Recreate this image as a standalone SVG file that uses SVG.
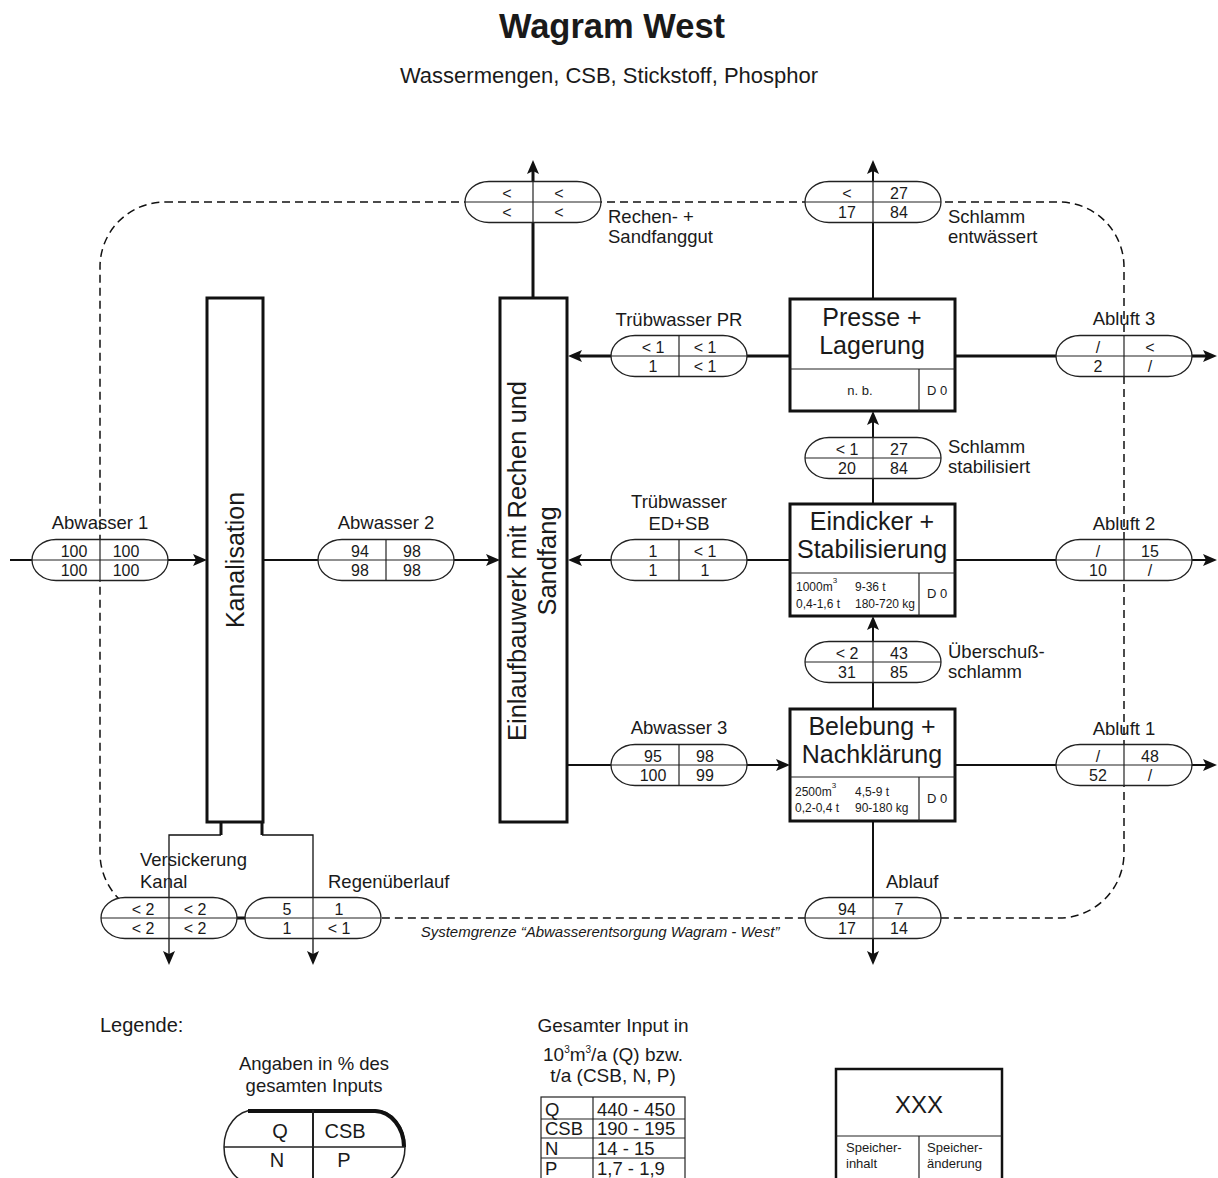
<svg xmlns="http://www.w3.org/2000/svg" width="1218" height="1178" viewBox="0 0 1218 1178">
<style>
text{font-family:"Liberation Sans",Arial,sans-serif;fill:#1a1a1a}
.t{font-size:34.5px;font-weight:bold;text-anchor:middle}
.st{font-size:22px;text-anchor:middle}
.lb{font-size:18.5px}
.lbm{font-size:18.5px;text-anchor:middle}
.bx{font-size:25px;text-anchor:middle}
.v{font-size:16px;text-anchor:middle}
.sm{font-size:12px}
.smm{font-size:13px;text-anchor:middle}
.box{fill:#fff;stroke:#111;stroke-width:3}
.cell{stroke:#222;stroke-width:1.2;fill:none}
.pill{fill:#fff;stroke:#222;stroke-width:1.3}
.f3{stroke:#111;stroke-width:3;fill:none}
.f2{stroke:#111;stroke-width:2;fill:none}
.f1{stroke:#111;stroke-width:1.3;fill:none}
.arr{marker-end:url(#ah)}
.dash{fill:none;stroke:#111;stroke-width:1.5;stroke-dasharray:8 5}
</style>
<defs>
<marker id="ah" viewBox="0 0 14 12" refX="6" refY="6" markerWidth="14" markerHeight="12" markerUnits="userSpaceOnUse" orient="auto">
<path d="M0,0 L14,6 L0,12 L3,6 z" fill="#111"/>
</marker>
<g id="pillshape">
<rect x="0" y="-20.5" width="136" height="41" rx="24" ry="20.5" class="pill"/>
<line x1="0" y1="0" x2="136" y2="0" class="cell"/>
<line x1="68" y1="-20.5" x2="68" y2="20.5" class="cell"/>
</g>
</defs>

<text class="t" x="612" y="38">Wagram West</text>
<text class="st" x="609" y="83">Wassermengen, CSB, Stickstoff, Phosphor</text>

<path id="systemgrenze" class="dash" d="M165,202 H1059 A65,65 0 0 1 1124,267 V853 A65,65 0 0 1 1059,918 H165 A65,65 0 0 1 100,853 V267 A65,65 0 0 1 165,202 Z"/>
<text x="600" y="937" style="font-size:15px;font-style:italic;text-anchor:middle">Systemgrenze “Abwasserentsorgung Wagram - West”</text>

<g id="connectors">
<path class="f2 arr" d="M10,560 H199"/>
<path class="f2 arr" d="M263,560 H492"/>
<path class="f3 arr" d="M533,298 V168"/>
<path class="f3 arr" d="M790,356 H576"/>
<path class="f2 arr" d="M790,560 H576"/>
<path class="f2 arr" d="M567,765 H782"/>
<path class="f2 arr" d="M873,299 V168"/>
<path class="f2 arr" d="M873,504 V419"/>
<path class="f2 arr" d="M873,709 V624"/>
<path class="f2 arr" d="M873,821 V957"/>
<path class="f3 arr" d="M955,356 H1209"/>
<path class="f2 arr" d="M955,560 H1209"/>
<path class="f2 arr" d="M955,765 H1209"/>
<path class="f3" d="M221,822 V835"/>
<path class="f3" d="M262,822 V835"/>
<path class="f1 arr" d="M221,835 H169 V957"/>
<path class="f1 arr" d="M262,835 H313 V957"/>
<path class="f3" d="M237,918 H246"/>
</g>

<g id="p-rechen" transform="translate(465,202)"><use href="#pillshape"/>
<text class="v" x="42" y="-3">&lt;</text><text class="v" x="94" y="-3">&lt;</text>
<text class="v" x="42" y="16">&lt;</text><text class="v" x="94" y="16">&lt;</text></g>
<text class="lb" x="608" y="223">Rechen- +</text>
<text class="lb" x="608" y="243">Sandfanggut</text>

<g id="p-schlamm-entw" transform="translate(805,202)"><use href="#pillshape"/>
<text class="v" x="42" y="-3">&lt;</text><text class="v" x="94" y="-3">27</text>
<text class="v" x="42" y="16">17</text><text class="v" x="94" y="16">84</text></g>
<text class="lb" x="948" y="223">Schlamm</text>
<text class="lb" x="948" y="243">entwässert</text>

<g id="p-truebpr" transform="translate(611,356)"><use href="#pillshape"/>
<text class="v" x="42" y="-3">&lt; 1</text><text class="v" x="94" y="-3">&lt; 1</text>
<text class="v" x="42" y="16">1</text><text class="v" x="94" y="16">&lt; 1</text></g>
<text class="lbm" x="679" y="326">Trübwasser PR</text>

<g id="p-schlamm-stab" transform="translate(805,458)"><use href="#pillshape"/>
<text class="v" x="42" y="-3">&lt; 1</text><text class="v" x="94" y="-3">27</text>
<text class="v" x="42" y="16">20</text><text class="v" x="94" y="16">84</text></g>
<text class="lb" x="948" y="453">Schlamm</text>
<text class="lb" x="948" y="473">stabilisiert</text>

<g id="p-truebed" transform="translate(611,560)"><use href="#pillshape"/>
<text class="v" x="42" y="-3">1</text><text class="v" x="94" y="-3">&lt; 1</text>
<text class="v" x="42" y="16">1</text><text class="v" x="94" y="16">1</text></g>
<text class="lbm" x="679" y="508">Trübwasser</text>
<text class="lbm" x="679" y="530">ED+SB</text>

<g id="p-ueberschuss" transform="translate(805,662)"><use href="#pillshape"/>
<text class="v" x="42" y="-3">&lt; 2</text><text class="v" x="94" y="-3">43</text>
<text class="v" x="42" y="16">31</text><text class="v" x="94" y="16">85</text></g>
<text class="lb" x="948" y="658">Überschuß-</text>
<text class="lb" x="948" y="678">schlamm</text>

<g id="p-abw3" transform="translate(611,765)"><use href="#pillshape"/>
<text class="v" x="42" y="-3">95</text><text class="v" x="94" y="-3">98</text>
<text class="v" x="42" y="16">100</text><text class="v" x="94" y="16">99</text></g>
<text class="lbm" x="679" y="734">Abwasser 3</text>

<g id="p-abw1" transform="translate(32,560)"><use href="#pillshape"/>
<text class="v" x="42" y="-3">100</text><text class="v" x="94" y="-3">100</text>
<text class="v" x="42" y="16">100</text><text class="v" x="94" y="16">100</text></g>
<text class="lbm" x="100" y="529">Abwasser 1</text>

<g id="p-abw2" transform="translate(318,560)"><use href="#pillshape"/>
<text class="v" x="42" y="-3">94</text><text class="v" x="94" y="-3">98</text>
<text class="v" x="42" y="16">98</text><text class="v" x="94" y="16">98</text></g>
<text class="lbm" x="386" y="529">Abwasser 2</text>

<g id="p-abluft3" transform="translate(1056,356)"><use href="#pillshape"/>
<text class="v" x="42" y="-3">/</text><text class="v" x="94" y="-3">&lt;</text>
<text class="v" x="42" y="16">2</text><text class="v" x="94" y="16">/</text></g>
<text class="lbm" x="1124" y="325">Abluft 3</text>

<g id="p-abluft2" transform="translate(1056,560)"><use href="#pillshape"/>
<text class="v" x="42" y="-3">/</text><text class="v" x="94" y="-3">15</text>
<text class="v" x="42" y="16">10</text><text class="v" x="94" y="16">/</text></g>
<text class="lbm" x="1124" y="530">Abluft 2</text>

<g id="p-abluft1" transform="translate(1056,765)"><use href="#pillshape"/>
<text class="v" x="42" y="-3">/</text><text class="v" x="94" y="-3">48</text>
<text class="v" x="42" y="16">52</text><text class="v" x="94" y="16">/</text></g>
<text class="lbm" x="1124" y="735">Abluft 1</text>

<g id="p-versick" transform="translate(101,918)"><use href="#pillshape"/>
<text class="v" x="42" y="-3">&lt; 2</text><text class="v" x="94" y="-3">&lt; 2</text>
<text class="v" x="42" y="16">&lt; 2</text><text class="v" x="94" y="16">&lt; 2</text></g>
<text class="lb" x="140" y="866">Versickerung</text>
<text class="lb" x="140" y="888">Kanal</text>

<g id="p-regen" transform="translate(245,918)"><use href="#pillshape"/>
<text class="v" x="42" y="-3">5</text><text class="v" x="94" y="-3">1</text>
<text class="v" x="42" y="16">1</text><text class="v" x="94" y="16">&lt; 1</text></g>
<text class="lb" x="328" y="888">Regenüberlauf</text>

<g id="p-ablauf" transform="translate(805,918)"><use href="#pillshape"/>
<text class="v" x="42" y="-3">94</text><text class="v" x="94" y="-3">7</text>
<text class="v" x="42" y="16">17</text><text class="v" x="94" y="16">14</text></g>
<text class="lb" x="886" y="888">Ablauf</text>

<g id="kanalisation">
<rect class="box" x="207" y="298" width="56" height="524"/>
<text class="bx" transform="translate(244,560) rotate(-90)">Kanalisation</text>
</g>

<g id="einlauf">
<rect class="box" x="500" y="298" width="67" height="524"/>
<text class="bx" style="font-size:25.5px" transform="translate(526,561) rotate(-90)">Einlaufbauwerk mit Rechen und</text>
<text class="bx" style="font-size:25.5px" transform="translate(556,561) rotate(-90)">Sandfang</text>
</g>

<g id="presse">
<rect class="box" x="790" y="299" width="165" height="112"/>
<line class="cell" x1="790" y1="369" x2="955" y2="369"/>
<line class="cell" x1="919" y1="369" x2="919" y2="411"/>
<text class="bx" x="872" y="326">Presse +</text>
<text class="bx" x="872" y="354">Lagerung</text>
<text class="smm" x="860" y="395">n. b.</text>
<text class="smm" x="937" y="395">D 0</text>
</g>

<g id="eindicker">
<rect class="box" x="790" y="504" width="165" height="112"/>
<line class="cell" x1="790" y1="573" x2="955" y2="573"/>
<line class="cell" x1="919" y1="573" x2="919" y2="616"/>
<text class="bx" x="872" y="530">Eindicker +</text>
<text class="bx" x="872" y="558">Stabilisierung</text>
<text class="sm" x="796" y="591">1000m<tspan dy="-8" style="font-size:8px">3</tspan></text>
<text class="sm" x="855" y="591">9-36 t</text>
<text class="sm" x="796" y="608">0,4-1,6 t</text>
<text class="sm" x="855" y="608">180-720 kg</text>
<text class="smm" x="937" y="598">D 0</text>
</g>

<g id="belebung">
<rect class="box" x="790" y="709" width="165" height="112"/>
<line class="cell" x1="790" y1="777" x2="955" y2="777"/>
<line class="cell" x1="919" y1="777" x2="919" y2="821"/>
<text class="bx" x="872" y="735">Belebung +</text>
<text class="bx" x="872" y="763">Nachklärung</text>
<text class="sm" x="795" y="796">2500m<tspan dy="-8" style="font-size:8px">3</tspan></text>
<text class="sm" x="855" y="796">4,5-9 t</text>
<text class="sm" x="795" y="812">0,2-0,4 t</text>
<text class="sm" x="855" y="812">90-180 kg</text>
<text class="smm" x="937" y="803">D 0</text>
</g>

<g id="legende">
<text x="100" y="1032" style="font-size:20px">Legende:</text>
<text class="lbm" x="314" y="1070">Angaben in % des</text>
<text class="lbm" x="314" y="1092">gesamten Inputs</text>
<rect x="224" y="1110" width="181" height="74" rx="30" ry="37" class="pill" style="stroke-width:1.5"/>
<path d="M248,1111 H375 A30,36 0 0 1 404,1147" fill="none" stroke="#111" stroke-width="4"/>
<line class="cell" x1="224" y1="1147" x2="405" y2="1147" style="stroke-width:1.5"/>
<line class="cell" x1="313" y1="1110" x2="313" y2="1184" style="stroke-width:2"/>
<text x="280" y="1138" style="font-size:20px;text-anchor:middle">Q</text>
<text x="345" y="1138" style="font-size:20px;text-anchor:middle">CSB</text>
<text x="277" y="1167" style="font-size:20px;text-anchor:middle">N</text>
<text x="344" y="1167" style="font-size:20px;text-anchor:middle">P</text>
</g>

<g id="gesamt">
<text class="lbm" style="font-size:19px" x="613" y="1032">Gesamter Input in</text>
<text class="lbm" style="font-size:19px" x="613" y="1061">10<tspan dy="-8" style="font-size:10px">3</tspan><tspan dy="8">m</tspan><tspan dy="-8" style="font-size:10px">3</tspan><tspan dy="8">/a (Q) bzw.</tspan></text>
<text class="lbm" style="font-size:19px" x="613" y="1082">t/a (CSB, N, P)</text>
<rect x="541" y="1097" width="144" height="90" class="cell"/>
<line class="cell" x1="541" y1="1119" x2="685" y2="1119"/>
<line class="cell" x1="541" y1="1138" x2="685" y2="1138"/>
<line class="cell" x1="541" y1="1158" x2="685" y2="1158"/>
<line class="cell" x1="593" y1="1097" x2="593" y2="1187"/>
<text class="lb" x="545" y="1116">Q</text><text class="lb" x="597" y="1116">440 - 450</text>
<text class="lb" x="545" y="1135">CSB</text><text class="lb" x="597" y="1135">190 - 195</text>
<text class="lb" x="545" y="1155">N</text><text class="lb" x="597" y="1155">14 - 15</text>
<text class="lb" x="545" y="1175">P</text><text class="lb" x="597" y="1175">1,7 - 1,9</text>
</g>

<g id="xxx">
<rect x="836" y="1069" width="166" height="125" fill="#fff" stroke="#111" stroke-width="2.5"/>
<line class="cell" x1="836" y1="1136" x2="1002" y2="1136"/>
<line class="cell" x1="919" y1="1136" x2="919" y2="1194"/>
<text x="919" y="1113" style="font-size:24px;text-anchor:middle">XXX</text>
<text x="846" y="1152" style="font-size:13px">Speicher-</text>
<text x="846" y="1168" style="font-size:13px">inhalt</text>
<text x="927" y="1152" style="font-size:13px">Speicher-</text>
<text x="927" y="1168" style="font-size:13px">änderung</text>
</g>
</svg>
